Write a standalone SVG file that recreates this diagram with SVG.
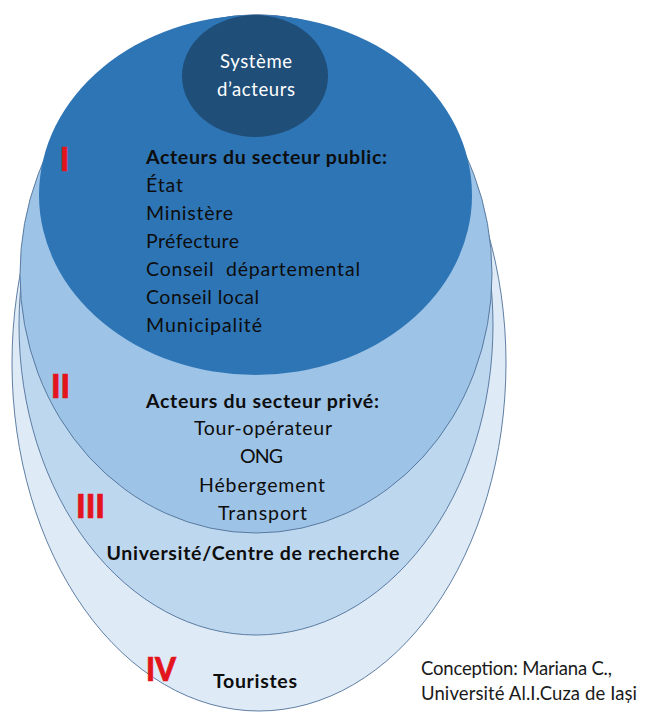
<svg xmlns="http://www.w3.org/2000/svg" width="662" height="713" viewBox="0 0 662 713">
<style>
.bg{fill:#ffffff}
.ring{stroke:#4f7198;stroke-width:0.9}
.t{font-family:Lato,"Open Sans",sans-serif;font-size:19.5px;fill:#0d0d0d}
.b{font-weight:bold}
.w{fill:#ffffff;font-size:18.5px}
.r{font-family:Lato,"Open Sans",sans-serif;font-size:33px;font-weight:900;fill:#e3141c;stroke:#e3141c;stroke-width:0.7}
.f{font-family:Lato,"Open Sans",sans-serif;font-size:18.5px;fill:#1a1a1a}
.m{text-anchor:middle}
</style>
<rect class="bg" x="0" y="0" width="662" height="713"/>
<g id="connectors"/>
<g id="ring-IV">
<ellipse class="ring" cx="259" cy="363" rx="247" ry="348" fill="#deebf7"/>
<text class="r" x="146" y="681" textLength="30" lengthAdjust="spacingAndGlyphs">IV</text>
<text class="t b m" x="255" y="688" textLength="84">Touristes</text>
</g>
<g id="ring-III">
<ellipse class="ring" cx="256" cy="325" rx="237" ry="310" fill="#bdd7ee"/>
<text class="r" x="76" y="518" textLength="29" lengthAdjust="spacingAndGlyphs">III</text>
<text class="t b m" x="253" y="560" textLength="293">Université/Centre de recherche</text>
</g>
<g id="ring-II">
<ellipse class="ring" cx="256" cy="274" rx="236" ry="259" fill="#9dc3e6"/>
<text class="r" x="51" y="398" textLength="19" lengthAdjust="spacingAndGlyphs">II</text>
<text class="t b m" x="262.5" y="408" textLength="233">Acteurs du secteur privé:</text>
<text class="t m" x="263" y="435" textLength="138">Tour-opérateur</text>
<text class="t m" x="261.5" y="463" textLength="43">ONG</text>
<text class="t m" x="262" y="492" textLength="126">Hébergement</text>
<text class="t m" x="262.5" y="520" textLength="89">Transport</text>
</g>
<g id="ring-I">
<ellipse cx="255.5" cy="195" rx="216.5" ry="180" fill="#2e75b6"/>
<text class="r" x="60" y="171" textLength="9" lengthAdjust="spacingAndGlyphs">I</text>
<text class="t b" x="146" y="164" textLength="241">Acteurs du secteur public:</text>
<text class="t" x="146" y="192" textLength="37">État</text>
<text class="t" x="146" y="220" textLength="87">Ministère</text>
<text class="t" x="146" y="248" textLength="93">Préfecture</text>
<text class="t" x="146" y="276" textLength="214" style="white-space:pre">Conseil  départemental</text>
<text class="t" x="146" y="304" textLength="113">Conseil local</text>
<text class="t" x="146" y="332" textLength="116">Municipalité</text>
</g>
<g id="core">
<ellipse cx="255" cy="76" rx="73" ry="61" fill="#1f4e79"/>
<text class="t w m" x="256" y="68" textLength="72">Système</text>
<text class="t w m" x="256" y="96" textLength="78">d’acteurs</text>
</g>
<g id="credit">
<text class="f" x="421" y="675" textLength="191">Conception: Mariana C.,</text>
<text class="f" x="421" y="700" textLength="216">Université Al.I.Cuza de Iași</text>
</g>
</svg>
